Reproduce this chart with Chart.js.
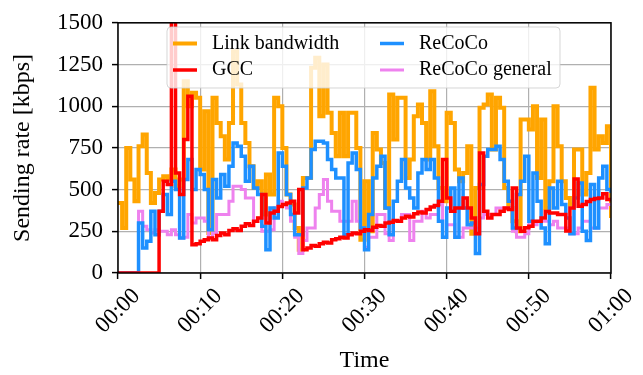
<!DOCTYPE html>
<html>
<head>
<meta charset="utf-8">
<script src="https://cdn.jsdelivr.net/npm/chart.js@4.4.1/dist/chart.umd.min.js"></script>
<style>
  html, body { margin: 0; padding: 0; background: #ffffff; }
  #wrap { width: 643px; height: 375px; }
</style>
</head>
<body>
<div id="wrap"><canvas id="rateChart" width="643" height="375"></canvas></div>
<script>
// Samples every 0.5 s, 00:00 .. 01:00 (kbps)
const STEP = 0.5;

const linkBandwidth = [
  420, 270, 750, 560, 430, 760, 830, 600, 420, 480,
  560, 580, 560, 620, 520, 560, 1150, 1000, 1080, 1050,
  620, 970, 240, 1050, 900, 820, 680, 900, 1330, 1130,
  900, 780, 640, 510, 550, 350, 590, 470, 1050, 1000,
  750, 470, 410, 270, 140, 570, 570, 1230, 1290, 940,
  1250, 960, 840, 700, 960, 700, 960, 960, 750, 200,
  550, 250, 840, 740, 660, 390, 1070, 800, 1050, 1050,
  570, 680, 940, 1010, 900, 680, 1090, 760, 510, 430,
  960, 900, 620, 550, 600, 760, 235, 510, 990, 1010,
  1070, 740, 1050, 990, 510, 390, 310, 250, 920, 920,
  860, 1000, 570, 920, 390, 550, 1000, 760, 550, 450,
  410, 740, 740, 470, 600, 1110, 740, 820, 780, 880,
  330
];

const gcc = [
  0, 0, 0, 0, 0, 0, 0, 0, 0, 0,
  370, 550, 530, 1800, 600, 470, 800, 1060, 170, 175,
  190, 200, 210, 200, 225, 240, 230, 255, 265, 255,
  280, 295, 285, 310, 330, 470, 300, 360, 370, 398,
  410, 420, 430, 360, 500, 140, 150, 165, 160, 175,
  185, 180, 200, 205, 215, 210, 230, 240, 235, 250,
  260, 255, 275, 285, 280, 300, 305, 315, 310, 330,
  340, 335, 355, 365, 360, 380, 395, 405, 430, 680,
  450, 370, 390, 390, 450, 390, 330, 235, 720, 370,
  330, 350, 350, 370, 390, 380, 510, 270, 250, 271,
  280, 310, 310, 330, 369, 360, 360, 350, 350, 252,
  390, 564, 400, 410, 428, 440, 446, 450, 475, 440,
  428
];

const recoco = [
  0, 0, 0, 0, 0, 300, 150, 190, 370, 230,
  370, 470, 350, 550, 500, 210, 560, 680, 500, 620,
  590, 500, 260, 560, 450, 590, 520, 640, 780, 760,
  700, 550, 640, 510, 470, 280, 140, 390, 330, 720,
  640, 470, 350, 230, 230, 510, 570, 740, 790, 790,
  780, 680, 620, 570, 570, 230, 660, 720, 620, 270,
  140, 350, 570, 640, 700, 390, 230, 430, 550, 680,
  510, 450, 390, 600, 680, 620, 680, 570, 310, 215,
  390, 510, 215, 570, 390, 290, 300, 117, 530, 700,
  740, 740, 760, 680, 550, 430, 270, 470, 550, 700,
  310, 600, 430, 270, 175, 510, 390, 550, 410, 330,
  235, 450, 540, 250, 195, 530, 270, 570, 640, 500,
  480
];

const recocoGeneral = [
  0, 0, 0, 0, 0, 370, 280, 260, 240, 260,
  250, 250, 230, 260, 230, 210, 215, 350, 300, 330,
  330, 310, 215, 240, 350, 350, 350, 430, 520, 520,
  500, 450, 450, 310, 330, 250, 250, 260, 390, 430,
  410, 390, 310, 215, 117, 195, 270, 270, 390, 470,
  560, 430, 370, 370, 310, 310, 310, 430, 310, 270,
  155, 215, 215, 350, 350, 235, 195, 310, 310, 350,
  350, 195, 310, 310, 370, 330, 350, 350, 410, 215,
  290, 290, 215, 215, 270, 270, 270, 270, 330, 350,
  350, 350, 390, 390, 390, 390, 250, 215, 215, 235,
  290, 290, 310, 310, 310, 290, 310, 270, 270, 270,
  235, 235, 270, 310, 310, 270, 270, 390, 390, 410,
  410
];

const times = linkBandwidth.map((_, i) => i * STEP);

// Axis ticks
const xTickValues = [0, 10, 20, 30, 40, 50, 60];
const xTickLabels = ['00:00', '00:10', '00:20', '00:30', '00:40', '00:50', '01:00'];
const yTicks = [0, 250, 500, 750, 1000, 1250, 1500];

const colors = {
    link: '#FFA500',   // orange
    gcc: '#FF0000',    // red
    recoco: '#1E90FF', // dodgerblue
    general: '#EE82EE' // violet
};

const SERIF = "'Liberation Serif', 'DejaVu Serif', serif";

function toPoints(values) {
    return values.map((v, i) => ({ x: times[i], y: v }));
}

// legend entries, matplotlib style: 2 columns, filled column by column
const legendItems = [
    { label: 'Link bandwidth', color: colors.link, width: 4, col: 0, row: 0 },
    { label: 'GCC', color: colors.gcc, width: 3.5, col: 0, row: 1 },
    { label: 'ReCoCo', color: colors.recoco, width: 3.5, col: 1, row: 0 },
    { label: 'ReCoCo general', color: colors.general, width: 3, col: 1, row: 1 }
];

const legendBox = {
    id: 'legendBox',
    afterDatasetsDraw(chart) {
        const ctx = chart.ctx;
        const x0 = 167, y0 = 27, w = 393, h = 61, r = 4;
        ctx.save();
        ctx.beginPath();
        ctx.roundRect(x0, y0, w, h, r);
        ctx.fillStyle = 'rgba(255,255,255,0.8)';
        ctx.fill();
        ctx.strokeStyle = 'rgba(204,204,204,0.8)';
        ctx.lineWidth = 1;
        ctx.stroke();

        ctx.font = '20px ' + SERIF;
        ctx.fillStyle = '#000';
        ctx.textBaseline = 'middle';
        ctx.textAlign = 'left';
        legendItems.forEach(item => {
            const hx = item.col === 0 ? 173 : 380;
            const y = item.row === 0 ? 43.5 : 70;
            ctx.beginPath();
            ctx.moveTo(hx, y);
            ctx.lineTo(hx + 24, y);
            ctx.strokeStyle = item.color;
            ctx.lineWidth = item.width;
            ctx.lineCap = 'butt';
            ctx.stroke();
            ctx.fillText(item.label, hx + 39, y);
        });
        ctx.restore();
    },
    afterDraw(chart) {
        const ctx = chart.ctx;
        const area = chart.chartArea;
        const xScale = chart.scales.x;
        ctx.save();
        // axes frame
        ctx.strokeStyle = '#000';
        ctx.lineWidth = 1.5;
        ctx.strokeRect(area.left, area.top, area.right - area.left, area.bottom - area.top);

        // rotated x tick labels, centred under the tick
        ctx.font = '23px ' + SERIF;
        ctx.fillStyle = '#000';
        ctx.textAlign = 'center';
        ctx.textBaseline = 'middle';
        xTickValues.forEach((v, i) => {
            const px = xScale.getPixelForValue(v);
            ctx.save();
            ctx.translate(px, area.bottom + 38);
            ctx.rotate(-Math.PI / 4);
            ctx.fillText(xTickLabels[i], 0, 0);
            ctx.restore();
        });
        ctx.restore();
    }
};

const ctxRate = document.getElementById('rateChart').getContext('2d');
const rateChart = new Chart(ctxRate, {
    type: 'line',
    data: {
        datasets: [
            {
                label: 'Link bandwidth',
                data: toPoints(linkBandwidth),
                borderColor: colors.link,
                borderWidth: 4,
                stepped: true,
                pointRadius: 0,
                order: 3
            },
            {
                label: 'GCC',
                data: toPoints(gcc),
                borderColor: colors.gcc,
                borderWidth: 3.5,
                stepped: true,
                pointRadius: 0,
                order: 0
            },
            {
                label: 'ReCoCo',
                data: toPoints(recoco),
                borderColor: colors.recoco,
                borderWidth: 3.5,
                stepped: true,
                pointRadius: 0,
                order: 1
            },
            {
                label: 'ReCoCo general',
                data: toPoints(recocoGeneral),
                borderColor: colors.general,
                borderWidth: 3,
                stepped: true,
                pointRadius: 0,
                order: 2
            }
        ]
    },
    options: {
        responsive: false,
        animation: false,
        devicePixelRatio: 1,
        layout: {
            padding: { top: 17, right: 32, left: 0, bottom: 0 }
        },
        plugins: {
            legend: { display: false },
            tooltip: { enabled: false }
        },
        scales: {
            x: {
                type: 'linear',
                min: 0,
                max: 60,
                afterBuildTicks: scale => {
                    scale.ticks = xTickValues.map(v => ({ value: v }));
                },
                afterFit: scale => { scale.height = 102; },
                ticks: { display: false },
                grid: {
                    color: '#b0b0b0',
                    lineWidth: 1.2,
                    tickLength: 6,
                    tickColor: '#000',
                    tickWidth: 1.5
                },
                border: { display: false },
                title: {
                    display: true,
                    text: 'Time',
                    color: '#000',
                    font: { family: SERIF, size: 24 },
                    padding: { top: 0, bottom: 0 }
                }
            },
            y: {
                min: 0,
                max: 1500,
                afterBuildTicks: scale => {
                    scale.ticks = yTicks.map(v => ({ value: v }));
                },
                afterFit: scale => { scale.width = 118; },
                ticks: {
                    color: '#000',
                    padding: 9,
                    font: { family: SERIF, size: 23 },
                    callback: value => String(value)
                },
                grid: {
                    color: '#b0b0b0',
                    lineWidth: 1.2,
                    tickLength: 6,
                    tickColor: '#000',
                    tickWidth: 1.5
                },
                border: { display: false },
                title: {
                    display: true,
                    text: 'Sending rate [kbps]',
                    color: '#000',
                    font: { family: SERIF, size: 24 },
                    padding: { top: 8, bottom: 0 }
                }
            }
        }
    },
    plugins: [legendBox]
});
</script>
</body>
</html>
